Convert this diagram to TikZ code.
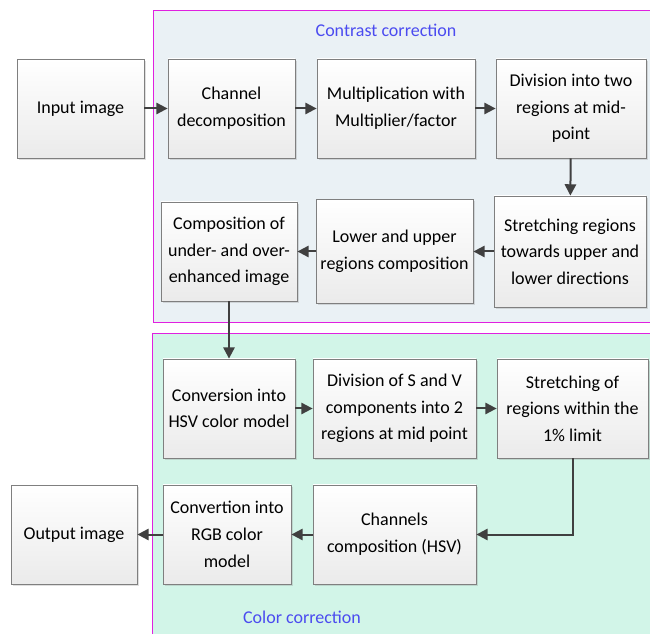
\documentclass[tikz,border=0pt]{standalone}
\usepackage{fontspec}
\setmainfont{Carlito}
\usetikzlibrary{arrows.meta,shadows}
\definecolor{ink}{HTML}{404040}
\definecolor{edge}{HTML}{7F7F7F}
\definecolor{frame}{HTML}{E020E0}
\definecolor{tagblue}{HTML}{4B4BF0}
\definecolor{contrastfill}{HTML}{EAF1F5}
\definecolor{colorfill}{HTML}{D2F5E8}
\newcommand{\body}{\fontsize{13.5}{20}\selectfont}
\tikzset{
 every node/.append style={font=\body,text=black,align=center},
 box/.style={draw=edge,line width=.6pt,top color=white,bottom color=black!8,inner sep=3pt,minimum height=74.25pt,drop shadow={opacity=.25,shadow xshift=1.5pt,shadow yshift=-1.5pt}},
 panel/.style={draw=frame,line width=.7pt},
 tag/.style={text=tagblue,inner sep=1pt},
 flow/.style={-{Triangle[length=8.5pt,width=8.5pt]},draw=ink,line width=1.5pt},
}

\begin{document}
\begin{tikzpicture}[x=.75pt,y=-.75pt]

\useasboundingbox (0,0) rectangle (650,634);
\fill[white] (0,0) rectangle (650,634);
\draw[panel,fill=contrastfill] (153,10) rectangle (660,322);
\draw[panel,fill=colorfill] (152,333) rectangle (660,645);
\node[tag] (contrast) at (386,30) {Contrast correction};
\node[tag] (color) at (302,617) {Color correction};
\node[box,minimum width=95.25pt] (inp) at (80.5,108.5) {Input image};
\node[box,minimum width=95.25pt] (chan) at (231.5,108.5) {Channel\\decomposition};
\node[box,minimum width=118.5pt] (mult) at (396,108.5) {Multiplication with\\Multiplier/factor};
\node[box,minimum width=112.5pt] (divi) at (571,108.5) {Division into two\\regions at mid-\\point};
\node[box,minimum width=114pt,minimum height=83.25pt] (stre) at (570,251.5) {Stretching regions\\towards upper and\\lower directions};
\node[box,minimum width=117.75pt,minimum height=78pt] (lowup) at (394.5,251.5) {Lower and upper\\regions composition};
\node[box,minimum width=102pt] (compo) at (229,251.5) {Composition of\\under- and over-\\enhanced image};
\node[box,minimum width=99pt] (hsv) at (229,408.5) {Conversion into\\HSV color model};
\node[box,minimum width=122.25pt] (divsv) at (394.5,408.5) {Division of S and V\\components into 2\\regions at mid point};
\node[box,minimum width=113.25pt] (strlim) at (572.5,408.5) {Stretching of\\regions within the\\1\% limit};
\node[box,minimum width=122.25pt] (chcomp) at (394.5,534.5) {Channels\\composition (HSV)};
\node[box,minimum width=96pt] (rgb) at (227,534.5) {Convertion into\\RGB color\\model};
\node[box,minimum width=94.5pt] (out) at (74,534.5) {Output image};
\draw[flow] (inp) -- (chan); \draw[flow] (chan) -- (mult); \draw[flow] (mult) -- (divi);
\draw[flow] (divi) -- (stre); \draw[flow] (stre) -- (lowup); \draw[flow] (lowup) -- (compo);
\draw[flow] (compo) -- (hsv);
\draw[flow] (hsv) -- (divsv); \draw[flow] (divsv) -- (strlim);
\draw[flow] (strlim.south) |- (chcomp.east);
\draw[flow] (chcomp) -- (rgb); \draw[flow] (rgb) -- (out);

\end{tikzpicture}
\end{document}
